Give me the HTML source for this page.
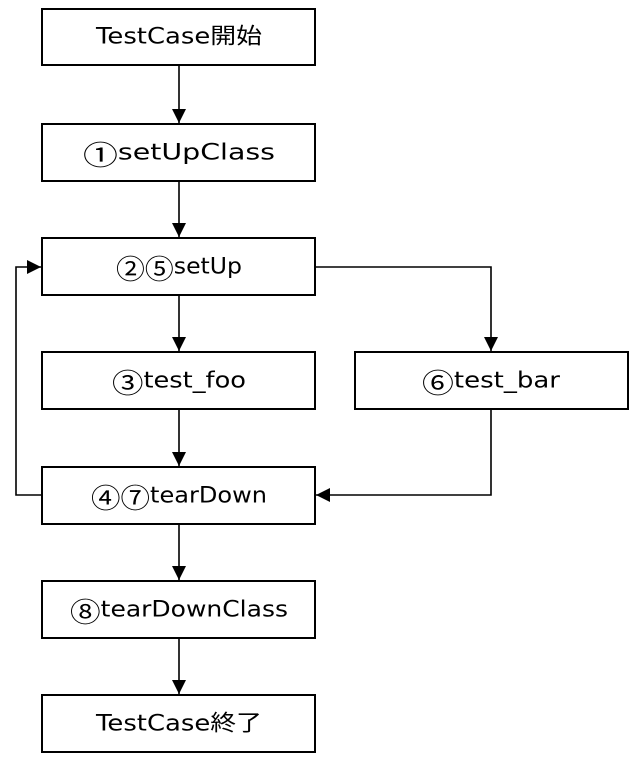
<!DOCTYPE html>
<html><head><meta charset="utf-8"><style>
html,body{margin:0;padding:0;background:#fff;}
svg text{font-family:"DejaVu Sans","Noto Sans CJK JP",sans-serif;font-size:22px;fill:#000;text-anchor:middle;dominant-baseline:central;}
.c{font-family:"Noto Sans CJK JP",sans-serif;font-size:27px;}
</style></head><body>
<svg width="642" height="770" xmlns="http://www.w3.org/2000/svg">
<defs><marker id="a" markerWidth="16" markerHeight="16" refX="14" refY="7" orient="auto" markerUnits="userSpaceOnUse"><path d="M0,0 L14,7 L0,14 Z" fill="#000"/></marker></defs>
<g fill="#fff" stroke="#000" stroke-width="2">
<rect x="42" y="9" width="273" height="56"/>
<rect x="42" y="124" width="273" height="57"/>
<rect x="42" y="238" width="273" height="57"/>
<rect x="42" y="352" width="273" height="57"/>
<rect x="355" y="352" width="273" height="57"/>
<rect x="42" y="467" width="273" height="57"/>
<rect x="42" y="581" width="273" height="57"/>
<rect x="42" y="695" width="273" height="57"/>
</g>
<g stroke="#000" stroke-width="1.6" fill="none" marker-end="url(#a)">
<line x1="179" y1="65" x2="179" y2="123"/>
<line x1="179" y1="181" x2="179" y2="237"/>
<line x1="179" y1="295" x2="179" y2="351"/>
<line x1="179" y1="409" x2="179" y2="466"/>
<line x1="179" y1="524" x2="179" y2="580"/>
<line x1="179" y1="638" x2="179" y2="694"/>
<polyline points="315,267 491,267 491,351"/>
<polyline points="491,409 491,495 316,495"/>
<polyline points="42,495 16,495 16,267 41,267"/>
</g>
<text x="179" y="37" textLength="166" lengthAdjust="spacingAndGlyphs">TestCase開始</text>
<text x="179" y="153" textLength="192" lengthAdjust="spacingAndGlyphs"><tspan class="c">①</tspan>setUpClass</text>
<text x="179" y="267" textLength="126" lengthAdjust="spacingAndGlyphs"><tspan class="c">②⑤</tspan>setUp</text>
<text x="179" y="381" textLength="134" lengthAdjust="spacingAndGlyphs"><tspan class="c">③</tspan>test_foo</text>
<text x="491" y="381" textLength="138" lengthAdjust="spacingAndGlyphs"><tspan class="c">⑥</tspan>test_bar</text>
<text x="179" y="496" textLength="176" lengthAdjust="spacingAndGlyphs"><tspan class="c">④⑦</tspan>tearDown</text>
<text x="179" y="610" textLength="218" lengthAdjust="spacingAndGlyphs"><tspan class="c">⑧</tspan>tearDownClass</text>
<text x="179" y="724" textLength="166" lengthAdjust="spacingAndGlyphs">TestCase終了</text>
</svg>
</body></html>
